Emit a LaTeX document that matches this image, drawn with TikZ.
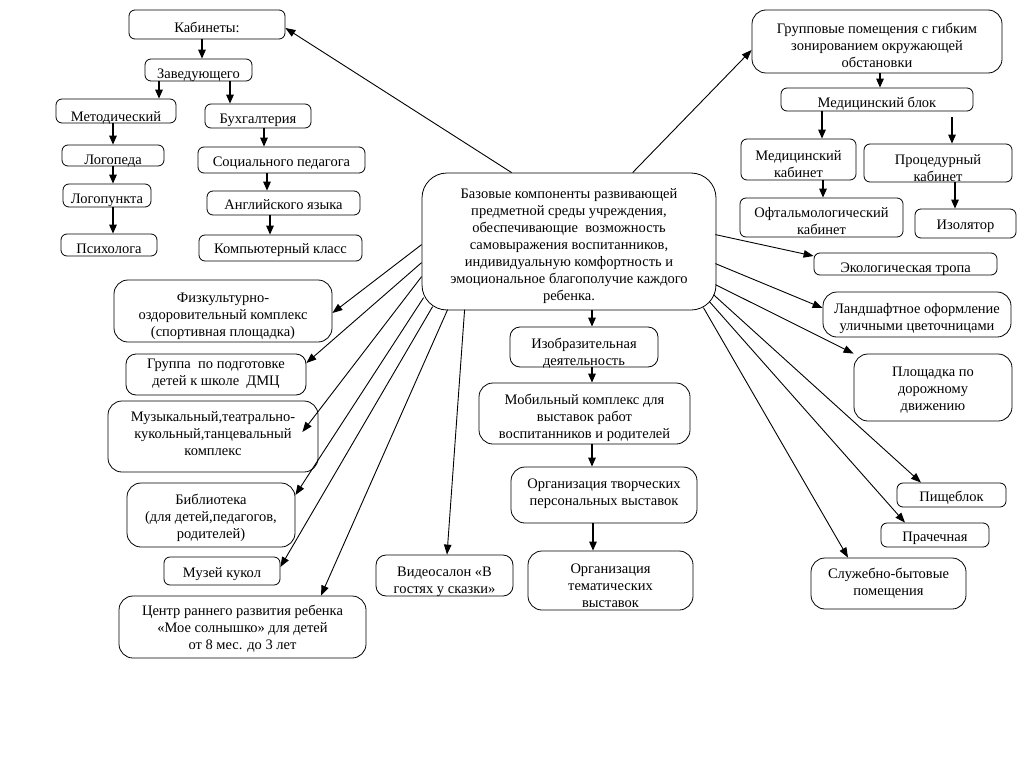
\documentclass[tikz,border=0pt]{standalone}
\usepackage{fontspec}
\setmainfont{Liberation Serif}
\usetikzlibrary{arrows.meta,calc}
\begin{document}
\begin{tikzpicture}[x=1pt,y=-1pt,
  box/.style={draw, line width=0.8pt, rounded corners=6pt, inner sep=0pt},
  bigbox/.style={box, rounded corners=14pt},
  sz/.style 2 args={minimum width=#1pt, minimum height=#2pt},
  txt/.style={align=center, inner sep=0pt, font=\fontsize{14.5}{17}\selectfont},
  Ts/.style 2 args={label={[txt,yshift=#1pt]center:{#2}}},
  T/.style={Ts={-4}{#1}},
  tarr/.style={-{Triangle[length=9pt,width=7.5pt]}, line width=1.3pt},
  rarr/.style={-{Triangle[length=10pt,width=7.5pt]}, line width=0.9pt},
]
\useasboundingbox (0,0) rectangle (1024,768);

% ---------- top-left tree ----------
\node[box, sz={156}{29}, Ts={-2.5}{Кабинеты:}] (kab) at (207,24.5) {};
\node[box, sz={107}{22}, Ts={-5}{Заведующего}] (zav) at (198.5,70) {};
\node[box, sz={120}{24}, Ts={-7}{Методический}] (met) at (116,111) {};
\node[box, sz={106}{24}, T={Бухгалтерия}] (buh) at (258,116) {};
\node[box, sz={102}{21}, Ts={-6}{Логопеда}] (log) at (113,155.5) {};
\node[box, sz={167}{26}, Ts={-3}{Социального педагога}] (soc) at (281.5,160) {};
\node[box, sz={88}{23}, Ts={-4.5}{Логопункта}]  (lgp) at (107,195.5) {};
\node[box, sz={153}{24}, Ts={-2}{Английского языка}] (eng) at (283.5,203) {};
\node[box, sz={96}{22}, T={Психолога}]  (psy) at (109,245) {};
\node[box, sz={163}{26}, Ts={-2}{Компьютерный класс}] (comp) at (280.5,248) {};

\draw[tarr] (kab.south -| 202,0) -- (zav.north -| 202,0);
\draw[tarr] (zav.south -| 159,0) -- (met.north -| 159,0);
\draw[tarr] (zav.south -| 230,0) -- (buh.north -| 230,0);
\draw[tarr] (met.south -| 113,0) -- (log.north -| 113,0);
\draw[tarr] (log.south -| 113,0) -- (lgp.north -| 113,0);
\draw[tarr] (lgp.south -| 113,0) -- (psy.north -| 113,0);
\draw[tarr] (buh.south -| 264,0) -- (soc.north -| 264,0);
\draw[tarr] (soc.south -| 267,0) -- (eng.north -| 267,0);
\draw[tarr] (eng.south -| 270,0) -- (comp.north -| 270,0);

% ---------- top-right tree ----------
\node[bigbox, sz={250}{63}, Ts={-3.5}{Групповые помещения с гибким\\зонированием окружающей\\обстановки}] (grp) at (877,41.5) {};
\node[box, sz={192}{23}, T={Медицинский блок}] (medb) at (877,99.5) {};
\node[box, sz={115}{41}, Ts={-4.5}{Медицинский\\кабинет}] (medk) at (798.5,159.5) {};
\node[box, sz={148}{38}, Ts={-5.5}{Процедурный\\кабинет}] (proc) at (938,163) {};
\node[box, sz={163}{39}, T={Офтальмологический\\кабинет}] (oft) at (821.5,217.5) {};
\node[box, sz={101}{29}, Ts={-2.5}{Изолятор}] (iso) at (965.5,223.5) {};
\node[box, sz={183}{22}, Ts={-5}{Экологическая тропа}] (eco) at (905.5,264) {};

\draw[tarr] (grp.south -| 880,0) -- (medb.north -| 880,0);
\draw[tarr] (medb.south -| 822,0) -- (medk.north -| 822,0);
\draw[tarr] ($(medb.south -| 952,0)+(0,6)$) -- (proc.north -| 952,0);
\draw[tarr] (medk.south -| 823,0) -- (oft.north -| 823,0);
\draw[tarr] (proc.south -| 955,0) -- (iso.north -| 955,0);

% ---------- centre ----------
\node[box, rounded corners=25pt, sz={294}{137},
  Ts={-4.5}{Базовые компоненты развивающей\\предметной среды учреждения,\\обеспечивающие\ \ возможность\\самовыражения воспитанников,\\индивидуальную комфортность и\\эмоциональное благополучие каждого\\ребенка.}] (cen) at (569,241.5) {};

% ---------- left ----------
\node[bigbox, sz={218}{62}, Ts={-5}{Физкультурно-\\оздоровительный комплекс\\(спортивная площадка)}] (fiz) at (223,311) {};
\node[box, rounded corners=10pt, sz={180}{41}, Ts={1}{Группа\ \ по подготовке\\детей к школе\ \ ДМЦ}] (grup) at (216,374.5) {};
\node[bigbox, sz={210}{71}, Ts={3}{Музыкальный,театрально-\\кукольный,танцевальный\\комплекс}] (mus) at (213,436.5) {};
\node[bigbox, sz={168}{64}, Ts={-3}{Библиотека\\(для детей,педагогов,\\родителей)}] (bib) at (211,515) {};
\node[box, sz={116}{28}, Ts={-3}{Музей кукол}] (muz) at (222,571) {};
\node[bigbox, sz={247}{62}, Ts={-2}{Центр раннего развития ребенка\\«Мое солнышко» для детей\\от 8 мес. до 3 лет}] (ctr) at (242.5,627) {};
\node[box, rounded corners=10pt, sz={137}{41}, Ts={-6}{Видеосалон «В\\гостях у сказки»}] (vid) at (444.5,575.5) {};

% ---------- middle ----------
\node[box, rounded corners=10pt, sz={148}{40}, Ts={-6.5}{Изобразительная\\деятельность}] (izo) at (584,347) {};
\node[bigbox, sz={211}{61}, Ts={-4.5}{Мобильный комплекс для\\выставок работ\\воспитанников и родителей}] (mob) at (584.5,413.5) {};
\node[bigbox, sz={186}{56}, Ts={1}{Организация творческих\\персональных выставок}] (orgt) at (604,495) {};
\node[bigbox, sz={165}{59}, Ts={-5.5}{Организация\\тематических\\выставок}] (orgm) at (610.5,580.5) {};

\draw[tarr] (cen.south -| 592,0) -- (izo.north -| 592,0);
\draw[tarr] (izo.south -| 592,0) -- (mob.north -| 592,0);
\draw[tarr] (mob.south -| 592,0) -- (orgt.north -| 592,0);
\draw[tarr] (orgt.south -| 593,0) -- (orgm.north -| 593,0);

% ---------- right ----------
\node[bigbox, sz={188}{45}, T={Ландшафтное оформление\\уличными цветочницами}] (land) at (917,314.5) {};
\node[bigbox, sz={158}{67}, Ts={-2.5}{Площадка по\\дорожному\\движению}] (plo) at (933,387.5) {};
\node[box, sz={109}{24}, Ts={-3}{Пищеблок}] (pis) at (951.5,495) {};
\node[box, sz={108}{24}, Ts={-3}{Прачечная}] (pra) at (935,535) {};
\node[bigbox, sz={155}{51}, Ts={0}{Служебно-бытовые\\помещения}] (slu) at (888.5,583.5) {};

% ---------- radial connectors ----------
\draw[rarr] ($(cen.north west)+(90,0)$)  -- (kab.east |- 0,28);
\draw[rarr] ($(cen.north west)+(211,0)$) -- (grp.west |- 0,50);
\draw[rarr] ($(cen.north west)+(0,72)$)  -- (fiz.east |- 0,313);
\draw[rarr] ($(cen.north west)+(0,90)$)  -- (grup.east |- 0,363);
\draw[rarr] ($(cen.north west)+(0,104)$) -- ($(mus.east)+(-16,-4.5)$);
\draw[rarr] ($(cen.north west)+(2,125)$) -- (bib.east |- 0,495);
\draw[rarr] ($(cen.north west)+(11,134)$) -- (muz.east |- 0,567);
\draw[rarr] ($(cen.north west)+(26,137)$) -- (ctr.north -| 321,0);
\draw[rarr] ($(cen.north west)+(43,137)$) -- (vid.north -| 447,0);

\draw[rarr] ($(cen.north east)+(-1,62)$)  -- (eco.west |- 0,256);
\draw[rarr] ($(cen.north east)+(-1,91)$)  -- (land.west |- 0,308);
\draw[rarr] ($(cen.north east)+(-1,112)$) -- (plo.north west);
\draw[rarr] ($(cen.north east)+(-3,122)$) -- (pis.north -| 921,0);
\draw[rarr] ($(cen.north east)+(-7,129)$) -- (pra.north -| 905,0);
\draw[rarr] ($(cen.north east)+(-13,135)$) -- (slu.north -| 848,0);
\end{tikzpicture}
\end{document}
